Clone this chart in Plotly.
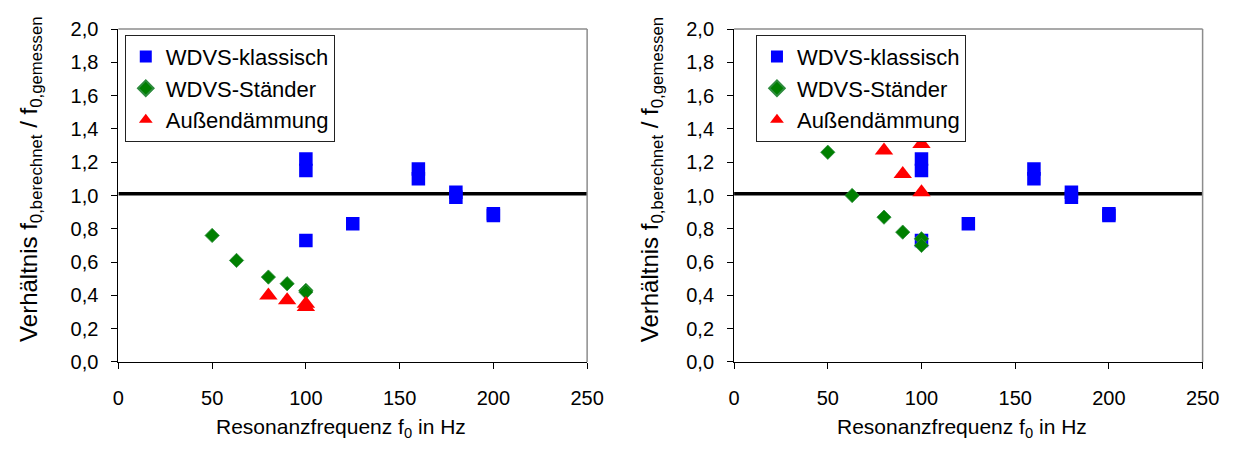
import plotly.graph_objects as go

# ---------------- data ----------------
# Left chart
L_klassisch_x = [100, 100, 100, 125, 160, 160, 180, 180, 200, 200]
L_klassisch_y = [1.22, 1.15, 0.73, 0.83, 1.16, 1.10, 1.02, 0.99, 0.89, 0.88]
L_staender_x = [50, 63, 80, 90, 100, 100]
L_staender_y = [0.76, 0.61, 0.51, 0.47, 0.43, 0.42]
L_aussen_x = [80, 90, 100, 100]
L_aussen_y = [0.40, 0.37, 0.35, 0.33]

# Right chart
R_klassisch_x = [100, 100, 100, 125, 160, 160, 180, 180, 200, 200]
R_klassisch_y = [1.22, 1.15, 0.73, 0.83, 1.16, 1.10, 1.02, 0.99, 0.89, 0.88]
R_staender_x = [50, 63, 80, 90, 100, 100]
R_staender_y = [1.26, 1.00, 0.87, 0.78, 0.74, 0.70]
R_aussen_x = [80, 90, 100, 100]
R_aussen_y = [1.27, 1.13, 1.31, 1.02]

ref_x = [0, 250]
ref_y = [1.01, 1.01]

names = ["WDVS-klassisch", "WDVS-Ständer", "Außendämmung"]
x_title = "Resonanzfrequenz f<sub>0</sub> in Hz"
y_title = "Verhältnis f<sub>0,berechnet</sub> / f<sub>0,gemessen</sub>"
x_ticks = [0, 50, 100, 150, 200, 250]
y_ticks = [0.0, 0.2, 0.4, 0.6, 0.8, 1.0, 1.2, 1.4, 1.6, 1.8, 2.0]

# ---------------- figure ----------------
FONT = "Liberation Sans, Arial, sans-serif"
W, H = 1252, 450

def px(X):
    return X / W

def py(Y):
    return 1 - Y / H

fig = go.Figure()

def add_panel(xa, ya, legend, kx, ky, sx, sy, ax, ay):
    fig.add_trace(go.Scatter(x=ref_x, y=ref_y, mode="lines", xaxis=xa, yaxis=ya,
                             line=dict(color="black", width=3.5), showlegend=False,
                             hoverinfo="skip"))
    fig.add_trace(go.Scatter(x=kx, y=ky, mode="markers", name=names[0], xaxis=xa, yaxis=ya,
                             legend=legend,
                             marker=dict(symbol="square", size=13.5, color="#0000FF",
                                         line=dict(width=0))))
    fig.add_trace(go.Scatter(x=sx, y=sy, mode="markers", name=names[1], xaxis=xa, yaxis=ya,
                             legend=legend,
                             marker=dict(symbol="diamond", size=11, color="#008000",
                                         line=dict(width=0.8, color="#2E8B3E"))))
    fig.add_trace(go.Scatter(x=ax, y=ay, mode="markers", name=names[2], xaxis=xa, yaxis=ya,
                             legend=legend,
                             marker=dict(symbol="triangle-up", size=16, color="#FF0000",
                                         line=dict(width=0))))

add_panel("x", "y", "legend", L_klassisch_x, L_klassisch_y, L_staender_x, L_staender_y,
          L_aussen_x, L_aussen_y)
add_panel("x2", "y2", "legend2", R_klassisch_x, R_klassisch_y, R_staender_x, R_staender_y,
          R_aussen_x, R_aussen_y)

ydom = [py(369), py(19)]
xdom1 = [px(114.5), px(592)]
xdom2 = [px(741.7), px(1219)]

xaxis_common = dict(range=[0, 250], tickvals=x_ticks, showgrid=False, zeroline=False,
                    showline=True, linecolor="black", linewidth=1,
                    ticks="outside", ticklen=6, tickcolor="black", tickwidth=1,
                    ticklabelstandoff=12,
                    tickfont=dict(family=FONT, size=20, color="black"))
yaxis_common = dict(range=[0, 2.0], tickvals=y_ticks, tickformat=".1f", showgrid=False,
                    zeroline=False, showline=True, linecolor="black", linewidth=1,
                    ticks="outside", ticklen=6, tickcolor="black", tickwidth=1,
                    ticklabelstandoff=9,
                    tickfont=dict(family=FONT, size=20, color="black"))

legend_common = dict(font=dict(family=FONT, size=22, color="black"), bgcolor="white",
                     bordercolor="#222222", borderwidth=1, xanchor="left", yanchor="top",
                     xref="paper", yref="paper", itemsizing="constant")

title_font_x = dict(family=FONT, size=21, color="black")
title_font_y = dict(family=FONT, size=24, color="black")
annotations = [
    dict(text=x_title, x=px(341), y=py(438), xref="paper", yref="paper",
         xanchor="center", yanchor="middle", showarrow=False, font=title_font_x),
    dict(text=x_title, x=px(974), y=py(438), xref="paper", yref="paper",
         xanchor="center", yanchor="middle", showarrow=False, font=title_font_x),
    dict(text=y_title, x=px(25), y=py(177), xref="paper", yref="paper", textangle=-90,
         xanchor="center", yanchor="middle", showarrow=False, font=title_font_y),
    dict(text=y_title, x=px(657), y=py(177), xref="paper", yref="paper", textangle=-90,
         xanchor="center", yanchor="middle", showarrow=False, font=title_font_y),
]

border = dict(color="#8C8C8C", width=1.5)
shapes = []
for xr, yr in (("x domain", "y domain"), ("x2 domain", "y2 domain")):
    shapes.append(dict(type="line", xref=xr, yref=yr, x0=0, x1=1, y0=1, y1=1, line=border))
    shapes.append(dict(type="line", xref=xr, yref=yr, x0=1, x1=1, y0=0, y1=1, line=border))

fig.update_layout(
    width=W, height=H, autosize=False,
    margin=dict(l=0, r=0, t=0, b=0),
    paper_bgcolor="white", plot_bgcolor="white",
    separators=",.",
    font=dict(family=FONT, color="black"),
    xaxis=dict(domain=xdom1, anchor="y", **xaxis_common),
    yaxis=dict(domain=ydom, anchor="x", **yaxis_common),
    xaxis2=dict(domain=xdom2, anchor="y2", **xaxis_common),
    yaxis2=dict(domain=ydom, anchor="x2", **yaxis_common),
    legend=dict(x=px(121), y=py(25), **legend_common),
    legend2=dict(x=px(764), y=py(25), **legend_common),
    annotations=annotations,
    shapes=shapes,
)

fig.write_html("out.html")
